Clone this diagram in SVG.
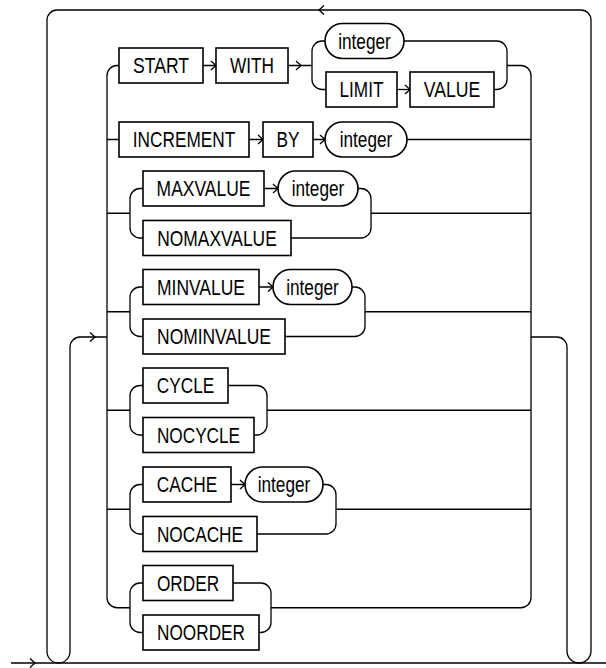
<svg xmlns="http://www.w3.org/2000/svg" xmlns:xlink="http://www.w3.org/1999/xlink" width="606" height="668" viewBox="0 0 606 668">
<style>
.b{fill:#fff;stroke:#000;stroke-width:1.6}
.t{font-family:"Liberation Sans Narrow","Liberation Sans",Arial,sans-serif;font-size:22px;fill:#000;text-anchor:middle}
.c{fill:none;stroke:#000;stroke-width:1.3}
</style>
<defs>
<path id="ah" d="M-5 -4.5 L0 0 L-5 4.5" fill="none" stroke="#000" stroke-width="1.3"/>
</defs>
<rect width="606" height="668" fill="#fff"/>
<g id="connectors" class="c">
<path d="M11 663 H606"/>
<path d="M58.5 663 A11.5 11.5 0 0 1 47 651.5 V20 A10 10 0 0 1 57 10 H581 A10 10 0 0 1 591 20 V651 A12 12 0 0 1 579 663"/>
<path d="M58.5 663 A11.5 11.5 0 0 0 70 651.5 V347 A10 10 0 0 1 80 337 H107"/>
<path d="M531 337 H557 A10 10 0 0 1 567 347 V651 A12 12 0 0 0 579 663"/>
<path d="M119 65.5 H117 A10 10 0 0 0 107 75.5 V597.75 A10 10 0 0 0 117 607.75 H130"/>
<path d="M507 65.5 H521 A10 10 0 0 1 531 75.5 V597.75 A10 10 0 0 1 521 607.75 H271"/>
<path d="M203 65.5 H216 M288 65.5 H312"/>
<path d="M325 41 H322 A10 10 0 0 0 312 51 V79.5 A10 10 0 0 0 322 89.5 H326"/>
<path d="M404 41 H497 A10 10 0 0 1 507 51 V79.5 A10 10 0 0 1 497 89.5 H494"/>
<path d="M397 89.5 H410"/>
<path d="M107 139.5 H119 M249 139.5 H263 M313 139.5 H325 M407 139.5 H531"/>
<path d="M107 213.25 H130 M143 188.5 H140 A10 10 0 0 0 130 198.5 V228 A10 10 0 0 0 140 238 H143"/>
<path d="M264 188.5 H278 M358 188.5 H361 A10 10 0 0 1 371 198.5 V228 A10 10 0 0 1 361 238 H291 M371 213.25 H531"/>
<path d="M107 311.75 H130 M143 287 H140 A10 10 0 0 0 130 297 V326.5 A10 10 0 0 0 140 336.5 H143"/>
<path d="M259 287 H273 M352 287 H355 A10 10 0 0 1 365 297 V326.5 A10 10 0 0 1 355 336.5 H285 M365 311.75 H531"/>
<path d="M107 410.25 H130 M143 385.5 H140 A10 10 0 0 0 130 395.5 V425 A10 10 0 0 0 140 435 H143"/>
<path d="M228 385.5 H257 A10 10 0 0 1 267 395.5 V425 A10 10 0 0 1 257 435 H254 M267 410.25 H531"/>
<path d="M107 509.25 H130 M143 484.5 H140 A10 10 0 0 0 130 494.5 V524 A10 10 0 0 0 140 534 H143"/>
<path d="M231 484.5 H245 M323 484.5 H326 A10 10 0 0 1 336 494.5 V524 A10 10 0 0 1 326 534 H257 M336 509.25 H531"/>
<path d="M143 583 H140 A10 10 0 0 0 130 593 V622.5 A10 10 0 0 0 140 632.5 H143"/>
<path d="M233 583 H261 A10 10 0 0 1 271 593 V622.5 A10 10 0 0 1 261 632.5 H259"/>
<use href="#ah" x="35" y="663"/>
<use href="#ah" transform="translate(319 10) rotate(180)"/>
<use href="#ah" x="95" y="337"/>
<use href="#ah" x="216" y="65.5"/>
<use href="#ah" x="301" y="65.5"/>
<use href="#ah" x="410" y="89.5"/>
<use href="#ah" x="263" y="139.5"/>
<use href="#ah" x="325" y="139.5"/>
<use href="#ah" x="278" y="188.5"/>
<use href="#ah" x="273" y="287"/>
<use href="#ah" x="245" y="484.5"/>
</g>
<g id="n-start"><rect class="b" x="119" y="48" width="84" height="35"/><text class="t" x="161" y="73" textLength="56" lengthAdjust="spacingAndGlyphs">START</text></g>
<g id="n-with"><rect class="b" x="216" y="48" width="72" height="35"/><text class="t" x="252" y="73" textLength="44" lengthAdjust="spacingAndGlyphs">WITH</text></g>
<g id="n-integer1"><rect class="b" x="325" y="23.5" width="79" height="35" rx="17.5"/><text class="t" x="364.5" y="48.5" textLength="52.6" lengthAdjust="spacingAndGlyphs">integer</text></g>
<g id="n-limit"><rect class="b" x="326" y="72" width="71" height="35"/><text class="t" x="361.5" y="97" textLength="44" lengthAdjust="spacingAndGlyphs">LIMIT</text></g>
<g id="n-value"><rect class="b" x="410" y="72" width="84" height="35"/><text class="t" x="452" y="97" textLength="56.5" lengthAdjust="spacingAndGlyphs">VALUE</text></g>
<g id="n-increment"><rect class="b" x="119" y="122" width="130" height="35"/><text class="t" x="184" y="147" textLength="102.4" lengthAdjust="spacingAndGlyphs">INCREMENT</text></g>
<g id="n-by"><rect class="b" x="263" y="122" width="50" height="35"/><text class="t" x="288" y="147" textLength="23" lengthAdjust="spacingAndGlyphs">BY</text></g>
<g id="n-integer2"><rect class="b" x="325" y="122" width="82" height="35" rx="17.5"/><text class="t" x="366" y="147" textLength="52.6" lengthAdjust="spacingAndGlyphs">integer</text></g>
<g id="n-maxvalue"><rect class="b" x="143" y="171" width="121" height="35"/><text class="t" x="203.5" y="196" textLength="93.8" lengthAdjust="spacingAndGlyphs">MAXVALUE</text></g>
<g id="n-integer3"><rect class="b" x="278" y="171" width="80" height="35" rx="17.5"/><text class="t" x="318" y="196" textLength="52.6" lengthAdjust="spacingAndGlyphs">integer</text></g>
<g id="n-nomaxvalue"><rect class="b" x="143" y="220.5" width="148" height="35"/><text class="t" x="217" y="245.5" textLength="119.6" lengthAdjust="spacingAndGlyphs">NOMAXVALUE</text></g>
<g id="n-minvalue"><rect class="b" x="143" y="269.5" width="116" height="35"/><text class="t" x="201" y="294.5" textLength="88" lengthAdjust="spacingAndGlyphs">MINVALUE</text></g>
<g id="n-integer4"><rect class="b" x="273" y="269.5" width="79" height="35" rx="17.5"/><text class="t" x="312.5" y="294.5" textLength="52.6" lengthAdjust="spacingAndGlyphs">integer</text></g>
<g id="n-nominvalue"><rect class="b" x="143" y="319" width="142" height="35"/><text class="t" x="214" y="344" textLength="113.9" lengthAdjust="spacingAndGlyphs">NOMINVALUE</text></g>
<g id="n-cycle"><rect class="b" x="143" y="368" width="85" height="35"/><text class="t" x="185.5" y="393" textLength="57.4" lengthAdjust="spacingAndGlyphs">CYCLE</text></g>
<g id="n-nocycle"><rect class="b" x="143" y="417.5" width="111" height="35"/><text class="t" x="198.5" y="442.5" textLength="83.2" lengthAdjust="spacingAndGlyphs">NOCYCLE</text></g>
<g id="n-cache"><rect class="b" x="143" y="467" width="88" height="35"/><text class="t" x="187" y="492" textLength="60.3" lengthAdjust="spacingAndGlyphs">CACHE</text></g>
<g id="n-integer5"><rect class="b" x="245" y="467" width="78" height="35" rx="17.5"/><text class="t" x="284" y="492" textLength="52.6" lengthAdjust="spacingAndGlyphs">integer</text></g>
<g id="n-nocache"><rect class="b" x="143" y="516.5" width="114" height="35"/><text class="t" x="200" y="541.5" textLength="86.1" lengthAdjust="spacingAndGlyphs">NOCACHE</text></g>
<g id="n-order"><rect class="b" x="143" y="565.5" width="90" height="35"/><text class="t" x="188" y="590.5" textLength="62.2" lengthAdjust="spacingAndGlyphs">ORDER</text></g>
<g id="n-noorder"><rect class="b" x="143" y="615" width="116" height="35"/><text class="t" x="201" y="640" textLength="88" lengthAdjust="spacingAndGlyphs">NOORDER</text></g>
</svg>
